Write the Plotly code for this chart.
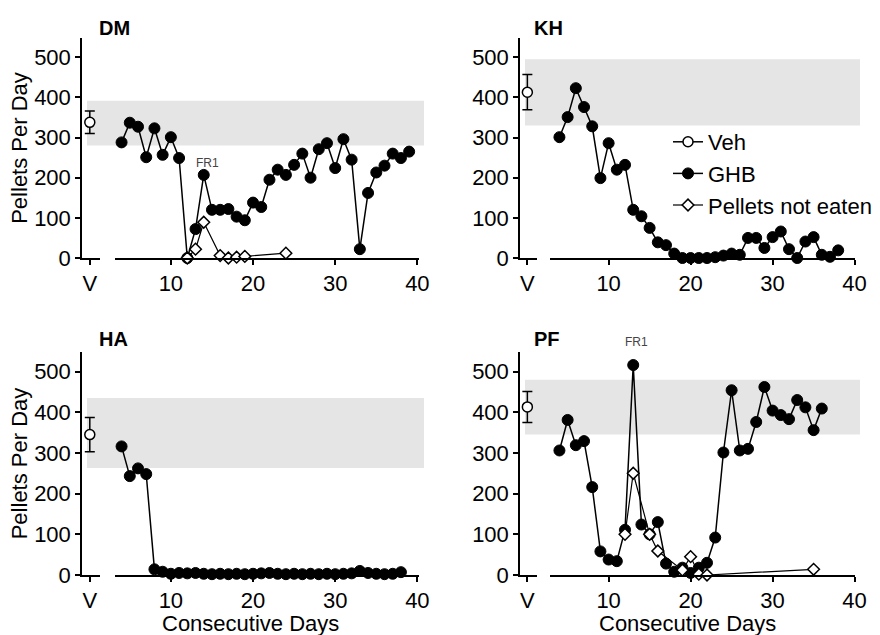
import plotly.graph_objects as go

W, H = 880, 635
FONT = "Liberation Sans, Arial, sans-serif"

# ---------------- data ----------------
panels = ["DM", "KH", "HA", "PF"]
veh_mean = [338, 413, 345, 413]
veh_err = [28, 44, 42, 38]
band_low = [280, 330, 263, 345]
band_high = [392, 495, 435, 480]

dm_days = list(range(4, 40))
dm_ghb = [288, 337, 327, 251, 323, 257, 301, 249, 0, 72, 207, 120, 120, 122, 103, 94,
          138, 127, 195, 220, 207, 232, 260, 200, 271, 286, 224, 296, 245, 22, 162,
          213, 230, 260, 249, 265]
dm_pne_days = [12, 13, 14, 16, 17, 18, 19, 24]
dm_pne = [0, 22, 89, 6, 0, 2, 4, 12]

kh_days = list(range(4, 39))
kh_ghb = [301, 351, 423, 376, 328, 199, 286, 220, 232, 120, 104, 75, 39, 32, 11, 0, 0,
          0, 0, 2, 6, 11, 8, 50, 50, 25, 52, 66, 22, 0, 41, 52, 8, 3, 19]
kh_pne_days = []
kh_pne = []

ha_days = list(range(4, 39))
ha_ghb = [316, 243, 262, 248, 14, 8, 3, 5, 4, 5, 3, 2, 3, 2, 3, 2, 3, 4, 5, 3, 2, 3,
          2, 3, 2, 3, 2, 3, 4, 10, 5, 3, 2, 3, 7]
ha_pne_days = []
ha_pne = []

pf_days = list(range(4, 37))
pf_ghb = [306, 381, 319, 329, 216, 58, 38, 34, 111, 516, 124, 100, 130, 28, 8, 18, 5,
          18, 30, 92, 301, 454, 306, 310, 376, 462, 404, 393, 383, 430, 412, 356, 409]
pf_pne_days = [12, 13, 15, 16, 19, 20, 21, 22, 35]
pf_pne = [100, 250, 100, 59, 12, 45, 2, 0, 14]

ghb_days = [dm_days, kh_days, ha_days, pf_days]
ghb_vals = [dm_ghb, kh_ghb, ha_ghb, pf_ghb]
pne_days = [dm_pne_days, kh_pne_days, ha_pne_days, pf_pne_days]
pne_vals = [dm_pne, kh_pne, ha_pne, pf_pne]
fr1_day = {0: 14, 3: 13}

x_ticks = [10, 20, 30, 40]
v_label = "V"

# ---------------- geometry (px) ----------------
cols = [dict(yx=82, vend=100, ds=115, de=419, rng=[3.2, 40.2], lab=97),
        dict(yx=520, vend=537, ds=550, de=855, rng=[2.85, 40.05], lab=532)]
rows = [dict(top=38, bot=258, lab=28), dict(top=352, bot=575, lab=339)]
YR = [0, 548]

fig = go.Figure()
layout = dict(
    width=W, height=H, margin=dict(l=0, r=0, t=0, b=0, autoexpand=False),
    paper_bgcolor="white", plot_bgcolor="rgba(0,0,0,0)",
    font=dict(family=FONT, size=22, color="black"),
    showlegend=True,
    legend=dict(x=668 / W, y=1 - 121 / H, xanchor="left", yanchor="top",
                bgcolor="rgba(0,0,0,0)", font=dict(size=22), tracegroupgap=0,
                itemwidth=30),
)
shapes, annotations = [], []

for i, name in enumerate(panels):
    c = cols[i % 2]
    r = rows[i // 2]
    vx = 2 * i + 1
    dx = 2 * i + 2
    yi = i + 1
    xv, xd, yy = f"x{vx}", f"x{dx}", f"y{yi}"
    ydom = [1 - r["bot"] / H, 1 - r["top"] / H]

    axis_common = dict(showline=True, linecolor="black", linewidth=1.5,
                       ticks="outside", tickcolor="black", tickwidth=1.5, ticklen=5,
                       showgrid=False, zeroline=False, automargin=False,
                       tickfont=dict(size=22, family=FONT))
    layout[f"xaxis{vx}"] = dict(axis_common, domain=[c["yx"] / W, c["vend"] / W],
                                anchor=yy, range=[-1.3, 1.7], tickvals=[0],
                                ticktext=[v_label])
    layout[f"xaxis{dx}"] = dict(axis_common, domain=[c["ds"] / W, c["de"] / W],
                                anchor=yy, range=c["rng"], tickvals=x_ticks)
    ya = dict(axis_common, domain=ydom, anchor=xv, range=YR, dtick=100, tick0=0)
    if i % 2 == 0:
        ya["title"] = dict(text="Pellets Per Day", font=dict(size=22), standoff=0)
    layout[f"yaxis{yi}"] = ya
    # minor ticks every 10 on an overlaid axis
    layout[f"yaxis{yi + 4}"] = dict(overlaying=yy, anchor=xv, side="left", range=YR,
                                    tick0=0, dtick=10, ticks="outside", ticklen=3,
                                    tickwidth=1, tickcolor="black",
                                    showticklabels=False, showline=False,
                                    showgrid=False, zeroline=False, automargin=False)

    # baseline band
    shapes.append(dict(type="rect", xref="paper", yref=yy,
                       x0=(c["yx"] + 5) / W, x1=(c["de"] + 5) / W,
                       y0=band_low[i], y1=band_high[i],
                       fillcolor="#e5e5e5", line=dict(width=0), layer="below"))

    show = i == 0
    fig.add_trace(go.Scatter(
        x=[0], y=[veh_mean[i]], xaxis=xv, yaxis=yy, name="Veh",
        mode="lines+markers", legendgroup="veh", showlegend=show,
        line=dict(color="black", width=1.5),
        marker=dict(symbol="circle", size=10, color="white",
                    line=dict(color="black", width=1.5)),
        error_y=dict(type="data", array=[veh_err[i]], color="black",
                     thickness=1.5, width=5),
        cliponaxis=False))
    fig.add_trace(go.Scatter(
        x=ghb_days[i], y=ghb_vals[i], xaxis=xd, yaxis=yy, name="GHB",
        mode="lines+markers", legendgroup="ghb", showlegend=show,
        line=dict(color="black", width=1.5),
        marker=dict(symbol="circle", size=11, color="black",
                    line=dict(color="black", width=1)),
        cliponaxis=False))
    fig.add_trace(go.Scatter(
        x=pne_days[i] if pne_days[i] else [None], y=pne_vals[i] if pne_vals[i] else [None],
        xaxis=xd, yaxis=yy, name="Pellets not eaten",
        mode="lines+markers", legendgroup="pne", showlegend=show,
        line=dict(color="black", width=1.2),
        marker=dict(symbol="diamond", size=9, color="white",
                    line=dict(color="black", width=1.5)),
        cliponaxis=False))

    # panel label
    annotations.append(dict(text=f"<b>{name}</b>", xref="paper", yref="paper",
                            x=c["lab"] / W, y=1 - r["lab"] / H, xanchor="left",
                            yanchor="middle", showarrow=False,
                            font=dict(size=20, family=FONT)))
    if i in fr1_day:
        d = fr1_day[i]
        yv = ghb_vals[i][ghb_days[i].index(d)]
        annotations.append(dict(text="FR1", xref=xd, yref=yy, x=d, y=yv,
                                yshift=3 if i == 0 else 14, xshift=4 if i == 0 else 3,
                                showarrow=False, yanchor="bottom",
                                font=dict(size=12, color="#444", family=FONT)))
    if i // 2 == 1:
        annotations.append(dict(text="Consecutive Days", xref="paper", yref="paper",
                                x=(c["yx"] + c["de"]) / 2 / W, y=1 - 623 / H,
                                xanchor="center", yanchor="middle", showarrow=False,
                                font=dict(size=22, family=FONT)))

layout["shapes"] = shapes
layout["annotations"] = annotations
fig.update_layout(**layout)
fig.write_html("out.html",
               config={"displayModeBar": False},
               post_script="document.body.style.margin='0';"
                           "document.documentElement.style.overflow='hidden';")
